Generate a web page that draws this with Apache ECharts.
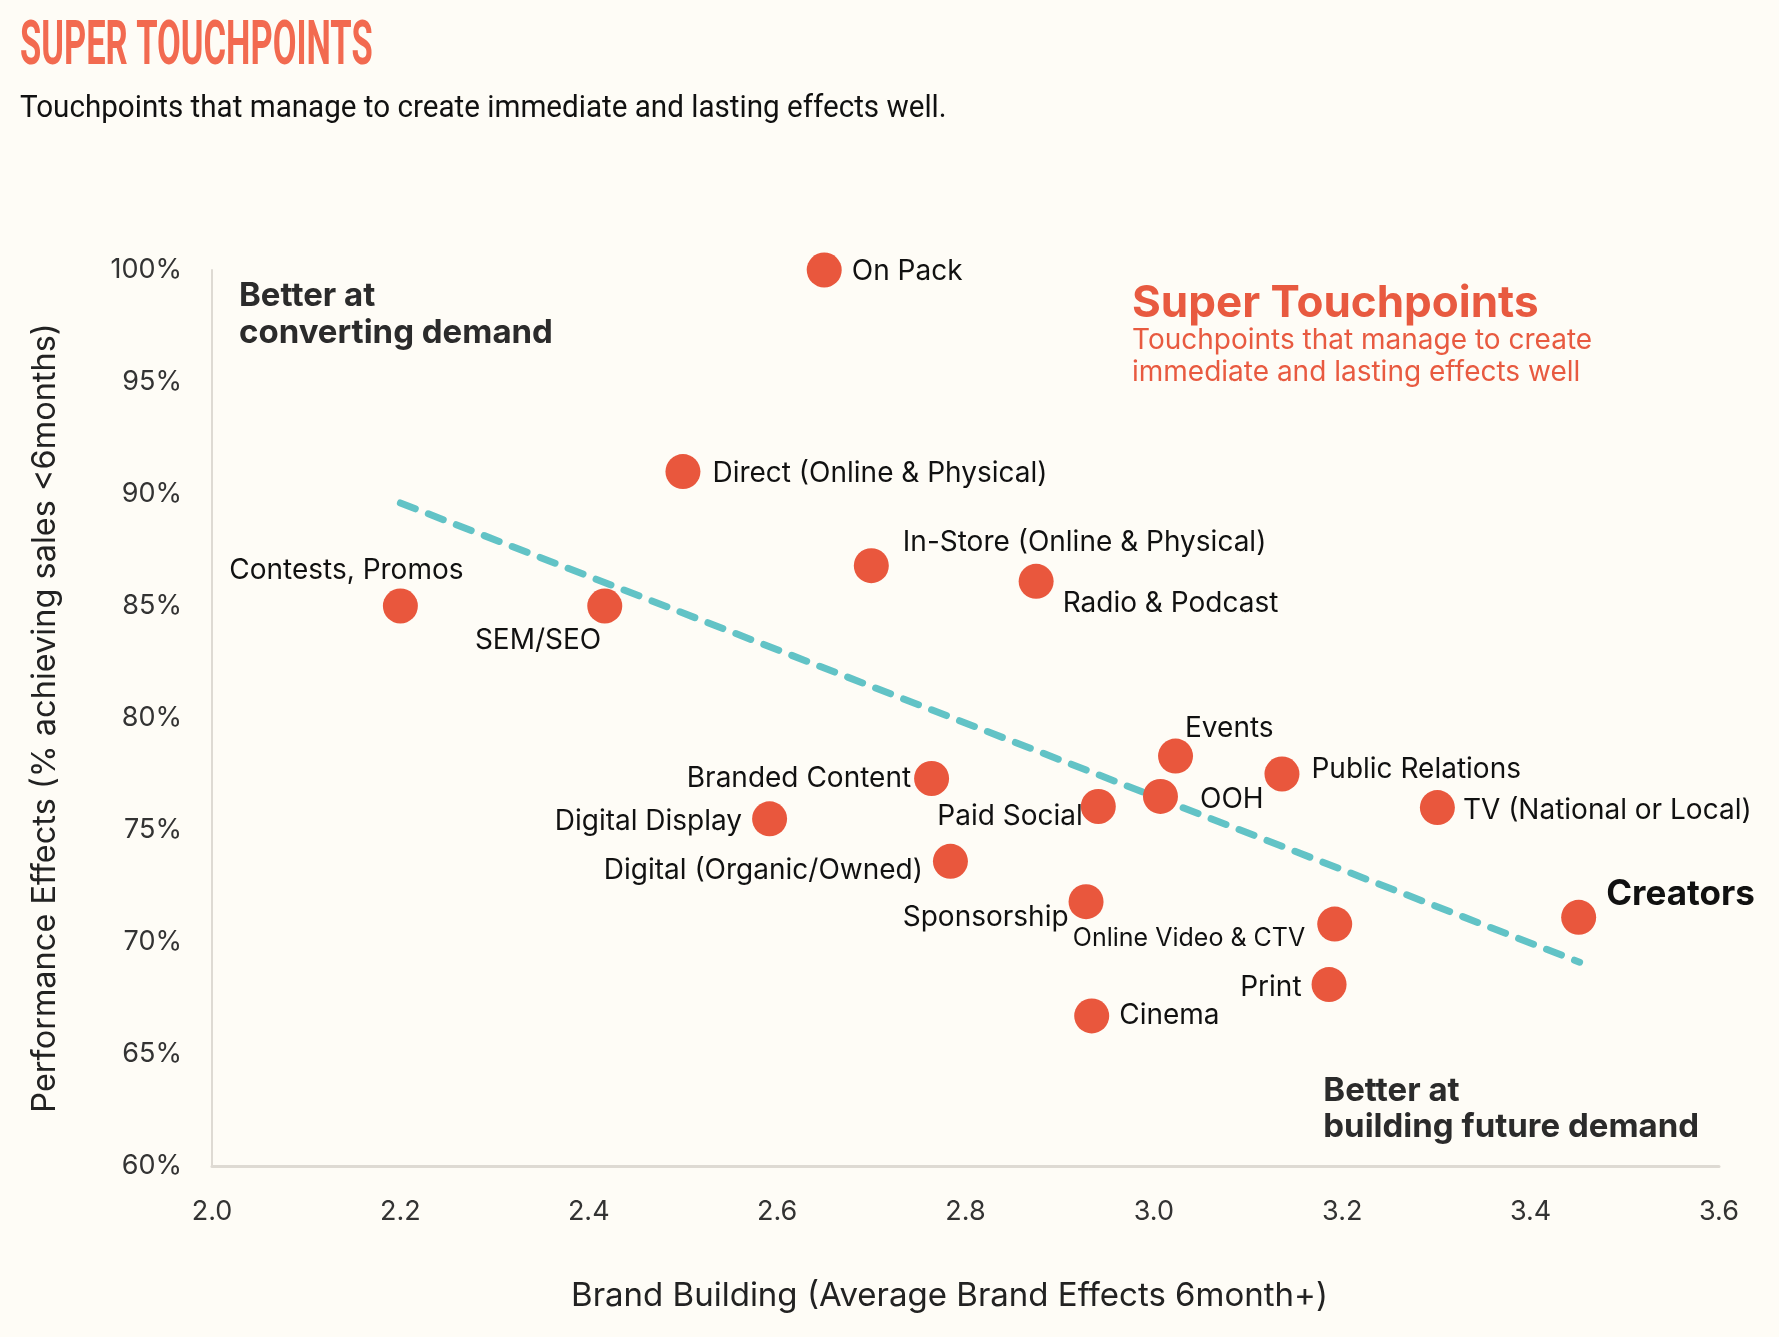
<!DOCTYPE html>
<html>
<head>
<meta charset="utf-8">
<script src="https://cdn.jsdelivr.net/npm/echarts@6.0.0/dist/echarts.min.js"></script>
<style>
  html, body { margin: 0; padding: 0; background: #fefcf6; }
  #chart { width: 1779px; height: 1337px; }
</style>
</head>
<body>
<div id="chart"></div>
<script>
// touchpoints
const touchpoints = [
  'On Pack', 'Direct (Online & Physical)', 'In-Store (Online & Physical)', 'Radio & Podcast',
  'Contests, Promos', 'SEM/SEO', 'Events', 'Public Relations', 'OOH', 'TV (National or Local)',
  'Paid Social', 'Branded Content', 'Digital Display', 'Digital (Organic/Owned)', 'Sponsorship',
  'Online Video & CTV', 'Creators', 'Print', 'Cinema'
]
const brandEffects = [
  2.65, 2.50, 2.70, 2.875,
  2.20, 2.417, 3.023, 3.136, 3.007, 3.301,
  2.941, 2.764, 2.592, 2.784, 2.928,
  3.192, 3.451, 3.186, 2.934
]
const performancePct = [
  100.0, 91.0, 86.8, 86.1,
  85.0, 85.0, 78.3, 77.5, 76.5, 76.0,
  76.05, 77.3, 75.5, 73.6, 71.8,
  70.8, 71.1, 68.1, 66.7
]
const trendX = [2.2, 3.452]
const trendY = [89.6, 69.1]

// label placement per point (style only)
const labelPlacement = {
  'On Pack': { position: 'right', distance: 10, offset: [0, 2] },
  'Direct (Online & Physical)': { position: 'right', distance: 12, offset: [0, 2] },
  'In-Store (Online & Physical)': { position: 'right', distance: 14, offset: [0, -23] },
  'Radio & Podcast': { position: 'right', distance: 9, offset: [0, 22] },
  'Contests, Promos': { position: 'top', distance: 4, offset: [-54, 0] },
  'SEM/SEO': { position: 'left', distance: -14, offset: [0, 35] },
  'Events': { position: 'right', distance: -8, offset: [0, -28] },
  'Public Relations': { position: 'right', distance: 12, offset: [0, -4] },
  'OOH': { position: 'right', distance: 22, offset: [0, 3] },
  'TV (National or Local)': { position: 'right', distance: 8, offset: [0, 3] },
  'Paid Social': { position: 'left', distance: -2, offset: [0, 10] },
  'Branded Content': { position: 'left', distance: 3, offset: [0, 0] },
  'Digital Display': { position: 'left', distance: 10, offset: [0, 3] },
  'Digital (Organic/Owned)': { position: 'left', distance: 10, offset: [0, 9] },
  'Sponsorship': { position: 'left', distance: 0, offset: [0, 16] },
  'Online Video & CTV': { position: 'left', distance: 12, offset: [0, 14], fontSize: 25 },
  'Creators': { position: 'right', distance: 10, offset: [0, -23], fontWeight: 'bold', fontSize: 35, color: '#111' },
  'Print': { position: 'left', distance: 10, offset: [0, 3] },
  'Cinema': { position: 'right', distance: 10, offset: [0, 0] }
}

const chart = echarts.init(document.getElementById('chart'))

const pointData = touchpoints.map((name, i) => ({
  name: name,
  value: [brandEffects[i], performancePct[i]],
  label: labelPlacement[name]
}))

const option = {
  backgroundColor: '#fefcf6',
  animation: false,
  textStyle: { fontFamily: 'Inter' },
  grid: {
    left: 212,
    right: 60,
    top: 270,
    bottom: 171,
    outerBoundsMode: 'none'
  },
  xAxis: {
    type: 'value',
    min: 2.0,
    max: 3.6,
    interval: 0.2,
    name: 'Brand Building (Average Brand Effects 6month+)',
    nameLocation: 'middle',
    nameGap: 114,
    nameTextStyle: { fontSize: 33, color: '#222', fontFamily: 'Inter', padding: [0, 32, 0, 0] },
    axisLine: { show: true, lineStyle: { color: '#dedad3', width: 3 } },
    axisTick: { show: false },
    splitLine: { show: false },
    axisLabel: {
      margin: 32,
      fontSize: 27,
      color: '#333',
      fontFamily: 'Inter',
      formatter: (v) => v.toFixed(1)
    }
  },
  yAxis: {
    type: 'value',
    min: 60,
    max: 100,
    interval: 5,
    name: 'Performance Effects (% achieving sales <6months)',
    nameLocation: 'middle',
    nameGap: 150,
    nameRotate: 90,
    nameTextStyle: { fontSize: 32.5, color: '#222', fontFamily: 'Inter' },
    axisLine: { show: true, lineStyle: { color: '#dedad3', width: 2 } },
    axisTick: { show: false },
    splitLine: { show: false },
    axisLabel: {
      margin: 30,
      fontSize: 27,
      color: '#333',
      fontFamily: 'Inter',
      formatter: '{value}%'
    }
  },
  graphic: [
    {
      type: 'text', left: 20, top: 18, scaleX: 0.565,
      style: { text: 'SUPER TOUCHPOINTS', font: 'bold 61px Roboto', fill: '#f26a50' }
    },
    {
      type: 'text', left: 20, top: 93, scaleX: 0.925,
      style: { text: 'Touchpoints that manage to create immediate and lasting effects well.', font: '32px Roboto', fill: '#111' }
    },
    {
      type: 'text', left: 239, top: 278,
      style: { text: 'Better at\nconverting demand', font: 'bold 33px Inter', lineHeight: 37, fill: '#2b2b2b' }
    },
    {
      type: 'text', left: 1132, top: 282,
      style: { text: 'Super Touchpoints', font: 'bold 44px Inter', fill: '#e85a40' }
    },
    {
      type: 'text', left: 1132, top: 325,
      style: { text: 'Touchpoints that manage to create\nimmediate and lasting effects well', font: '28px Inter', lineHeight: 32, fill: '#e85a40' }
    },
    {
      type: 'text', right: 80, top: 1073,
      style: { text: 'Better at\nbuilding future demand', font: 'bold 33px Inter', lineHeight: 36, fill: '#2b2b2b', align: 'right' }
    }
  ],
  series: [
    {
      name: 'Trend',
      type: 'line',
      data: trendX.map((x, i) => [x, trendY[i]]),
      symbol: 'none',
      silent: true,
      z: 1,
      lineStyle: { color: '#62c3c6', width: 7, type: [16, 14], cap: 'round' }
    },
    {
      name: 'Touchpoints',
      type: 'scatter',
      data: pointData,
      symbolSize: 35,
      z: 2,
      itemStyle: { color: '#e9573d', opacity: 1 },
      label: {
        show: true,
        formatter: '{b}',
        fontSize: 28,
        color: '#111',
        fontFamily: 'Inter'
      }
    }
  ]
}

chart.setOption(option)
window.addEventListener('resize', () => chart.resize())
</script>
</body>
</html>
